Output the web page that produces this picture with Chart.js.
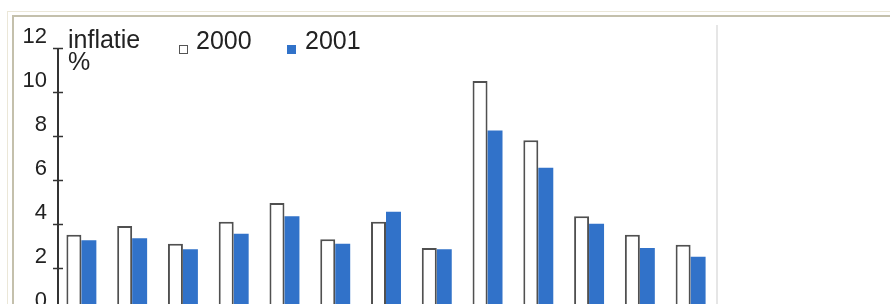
<!DOCTYPE html>
<html lang="nl">
<head>
    <meta charset="UTF-8">
    <title>Inflatie 2000 - 2001</title>
    <script src="https://cdn.jsdelivr.net/npm/chart.js"></script>
    <style>
        html, body { margin: 0; padding: 0; background: #fff; overflow: hidden; width: 890px; height: 304px; }
        #outerFrame { position: absolute; left: 7px; top: 11px; width: 890px; height: 300px;
                      border-left: 1px solid #ebe7d8; border-top: 1px solid #ebe7d8; }
        #innerFrame { position: absolute; left: 12px; top: 15px; width: 890px; height: 300px;
                      border-left: 2px solid #c4c0ac; border-top: 2px solid #c4c0ac; }
        #panelEdge { position: absolute; left: 716px; top: 25px; width: 2px; height: 290px; background: #e6e6e6; }
        #chartBox { position: absolute; left: 0; top: 0; width: 890px; height: 334px; }
    </style>
</head>
<body>
    <div id="outerFrame"></div>
    <div id="innerFrame"></div>
    <div id="panelEdge"></div>
    <div id="chartBox"><canvas id="inflationCanvas" width="890" height="334"></canvas></div>

    <script>
        // data (x labels are cut off in the reference)
        const categories = ['1', '2', '3', '4', '5', '6', '7', '8', '9', '10', '11', '12', '13'];
        const values2000 = [3.5, 3.9, 3.1, 4.1, 4.95, 3.3, 4.1, 2.9, 10.5, 7.8, 4.35, 3.5, 3.05];
        const values2001 = [3.25, 3.35, 2.85, 3.55, 4.35, 3.1, 4.55, 2.85, 8.25, 6.55, 4.0, 2.9, 2.5];
        const yTicks = [0, 2, 4, 6, 8, 10, 12];
        const axisTitle = ['inflatie', '%'];

        const blue = '#3172c9';
        const textColor = '#222';

        // y axis line with ticks crossing it
        const axisPlugin = {
            id: 'crossAxis',
            afterDatasetsDraw(chart) {
                const ctx = chart.ctx;
                const y = chart.scales.y;
                const x0 = 58;
                ctx.save();
                ctx.strokeStyle = '#333';
                ctx.lineWidth = 2;
                ctx.beginPath();
                ctx.moveTo(x0, y.getPixelForValue(yTicks[yTicks.length - 1]));
                ctx.lineTo(x0, y.getPixelForValue(0));
                ctx.stroke();
                ctx.lineWidth = 1.5;
                yTicks.forEach(v => {
                    const py = Math.round(y.getPixelForValue(v)) + 0.5;
                    ctx.beginPath();
                    ctx.moveTo(53, py);
                    ctx.lineTo(63, py);
                    ctx.stroke();
                });
                ctx.restore();
            }
        };

        // legend + axis title drawn inside the plot
        const legendPlugin = {
            id: 'topLegend',
            afterDraw(chart) {
                const ctx = chart.ctx;
                ctx.save();
                ctx.fillStyle = textColor;
                ctx.textBaseline = 'alphabetic';
                ctx.font = '25px "Liberation Sans", Arial, sans-serif';
                ctx.fillText(axisTitle[0], 68, 48);
                ctx.fillText(axisTitle[1], 68, 70);

                const ds = chart.data.datasets;
                // 2000: hollow square
                ctx.fillStyle = '#fff';
                ctx.strokeStyle = '#555';
                ctx.lineWidth = 1;
                ctx.fillRect(179.5, 45.5, 8, 8);
                ctx.strokeRect(179.5, 45.5, 8, 8);
                ctx.fillStyle = textColor;
                ctx.fillText(ds[0].label, 196, 49);
                // 2001: filled square
                ctx.fillStyle = blue;
                ctx.fillRect(287, 45, 9, 9);
                ctx.fillStyle = textColor;
                ctx.fillText(ds[1].label, 305, 49);
                ctx.restore();
            }
        };

        const ctx = document.getElementById('inflationCanvas').getContext('2d');
        new Chart(ctx, {
            type: 'bar',
            data: {
                labels: categories,
                datasets: [{
                    label: '2000',
                    data: values2000,
                    backgroundColor: '#fff',
                    borderColor: '#505050',
                    borderWidth: { top: 2, left: 2, right: 2, bottom: 0 },
                    borderSkipped: 'bottom'
                }, {
                    label: '2001',
                    data: values2001,
                    backgroundColor: blue,
                    borderWidth: 0
                }]
            },
            options: {
                responsive: false,
                animation: false,
                layout: { padding: { top: 48, right: 174, bottom: 15, left: 0 } },
                categoryPercentage: 0.59,
                barPercentage: 1.0,
                plugins: {
                    legend: { display: false },
                    tooltip: { enabled: false }
                },
                scales: {
                    x: { display: false },
                    y: {
                        min: 0,
                        max: 12,
                        afterFit: scale => { scale.width = 56; },
                        afterBuildTicks: scale => { scale.ticks = yTicks.map(v => ({ value: v })); },
                        border: { display: false },
                        grid: { display: false, drawTicks: false },
                        ticks: {
                            padding: 9,
                            labelOffset: -11,
                            color: textColor,
                            font: { family: '"Liberation Sans", Arial, sans-serif', size: 22 }
                        }
                    }
                }
            },
            plugins: [axisPlugin, legendPlugin]
        });
    </script>
</body>
</html>
